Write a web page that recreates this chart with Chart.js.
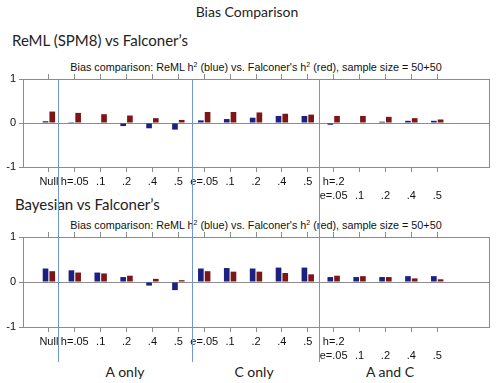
<!DOCTYPE html>
<html>
<head>
<meta charset="utf-8">
<script src="https://cdn.jsdelivr.net/npm/chart.js@4.4.1/dist/chart.umd.min.js"></script>
<style>
  html, body { margin:0; padding:0; background:#fff; }
  #wrap { position:relative; width:499px; height:383px; overflow:hidden; background:#fff; }
  .t { position:absolute; white-space:nowrap; color:#222; }
  .big { font-family:Lato, "Open Sans", sans-serif; font-size:14px; height:20px; line-height:20px; }
  .inner { font-family:"Liberation Sans", Arial, sans-serif; font-size:10.8px; height:16px; line-height:16px; transform:translateX(-50%); color:#111; }
  .inner sup { font-size:7px; line-height:0; vertical-align:4px; }
  .ctr { transform:translateX(-50%); }
  canvas { position:absolute; left:0; }
</style>
</head>
<body>
<div id="wrap">
  <div class="t big ctr" style="left:247px; top:2px;">Bias Comparison</div>
  <div class="t big" style="left:12px; top:30px; font-size:15px;">ReML (SPM8) vs Falconer’s</div>
  <div class="t inner" style="left:256px; top:59px;">Bias comparison: ReML h<sup>2</sup> (blue) vs. Falconer's h<sup>2</sup> (red), sample size = 50+50</div>
  <div class="t big" style="left:15px; top:194px; font-size:15px;">Bayesian vs Falconer’s</div>
  <div class="t inner" style="left:256px; top:217px;">Bias comparison: ReML h<sup>2</sup> (blue) vs. Falconer's h<sup>2</sup> (red), sample size = 50+50</div>
  <div class="t big ctr" style="left:125px; top:362px;">A only</div>
  <div class="t big ctr" style="left:254px; top:362px;">C only</div>
  <div class="t big ctr" style="left:390px; top:362px;">A and C</div>
  <canvas id="c1" width="499" height="200" style="top:0px;"></canvas>
  <canvas id="c2" width="499" height="183" style="top:200px;"></canvas>
</div>
<script>
// ---- data ----
const categories = ['Null','h=.05','.1','.2','.4','.5','e=.05','.1','.2','.4','.5',['h=.2','e=.05'],['','.1'],['','.2'],['','.4'],['','.5']];
const yTicks = [-1, 0, 1];
const remlBias      = [0.04, 0.02, -0.01, -0.07, -0.12, -0.15, 0.06, 0.09, 0.12, 0.16, 0.16, -0.04, -0.01, 0.03, 0.05, 0.05];
const falconerTop   = [0.26, 0.23, 0.20, 0.17, 0.11, 0.07, 0.25, 0.25, 0.24, 0.21, 0.19, 0.16, 0.16, 0.14, 0.11, 0.08];
const bayesBias     = [0.30, 0.26, 0.21, 0.11, -0.08, -0.18, 0.30, 0.31, 0.30, 0.32, 0.32, 0.11, 0.11, 0.11, 0.13, 0.13];
const falconerBot   = [0.24, 0.21, 0.19, 0.14, 0.07, 0.04, 0.24, 0.23, 0.23, 0.20, 0.17, 0.14, 0.13, 0.11, 0.08, 0.06];
const dividerPositions = [1.35, 6.53, 11.43]; // in category-index units (padded axis)

// padded axis: one empty slot before, two after
const padLabels = [''].concat(categories, ['', '']);
const pad = arr => [null].concat(arr, [null, null]);

const GRAY = '#8c8c8c';
const BLUE = '#1c2180';
const RED  = '#7d1616';
const LINE = '#7097d0';
const tickFont = { family: '"Liberation Sans", Arial, sans-serif', size: 11 };

const dividerPlugin = {
  id: 'dividers',
  afterDraw(chart, args, opts) {
    const ctx = chart.ctx, xs = chart.scales.x;
    const y0 = opts.fromChartTop ? chart.chartArea.top : 0;
    const y1 = opts.to;
    ctx.save();
    ctx.strokeStyle = LINE;
    ctx.lineWidth = 1;
    dividerPositions.forEach(v => {
      const px = Math.round(xs.getPixelForValue(v)) + 0.5;
      ctx.beginPath(); ctx.moveTo(px, y0); ctx.lineTo(px, y1); ctx.stroke();
    });
    ctx.restore();
  }
};

function makeChart(id, blueData, redData, padTop, xHeight, dividerOpts) {
  const isData = c => c.index >= 1 && c.index <= categories.length;
  return new Chart(document.getElementById(id), {
    type: 'bar',
    data: {
      labels: padLabels,
      datasets: [
        { data: pad(blueData), backgroundColor: BLUE, borderWidth: 0, categoryPercentage: 0.52, barPercentage: 0.84 },
        { data: pad(redData),  backgroundColor: RED,  borderWidth: 0, categoryPercentage: 0.52, barPercentage: 0.84 }
      ]
    },
    options: {
      responsive: false,
      animation: false,
      layout: { padding: { top: padTop, right: 0, bottom: 0, left: 0 } },
      plugins: { legend: { display: false }, title: { display: false }, tooltip: { enabled: false }, dividers: dividerOpts },
      scales: {
        x: {
          type: 'category', position: 'bottom', offset: false,
          grid: { offset: false, drawOnChartArea: false, drawTicks: true, tickLength: 5,
                  color: c => isData(c) ? GRAY : 'rgba(0,0,0,0)', tickColor: c => isData(c) ? GRAY : 'rgba(0,0,0,0)' },
          border: { color: GRAY, width: 1 },
          ticks: { autoSkip: false, maxRotation: 0, minRotation: 0, padding: 2, color: '#111', font: { ...tickFont, lineHeight: 1.36 } },
          afterFit: s => { s.height = xHeight; }
        },
        xTop: {
          type: 'category', position: 'top', offset: false,
          grid: { offset: false, drawOnChartArea: false, drawTicks: true, tickLength: 5,
                  color: c => isData(c) ? GRAY : 'rgba(0,0,0,0)', tickColor: c => isData(c) ? GRAY : 'rgba(0,0,0,0)' },
          border: { color: GRAY, width: 1 },
          ticks: { display: false },
          afterFit: s => { s.height = 5; }
        },
        y: {
          position: 'left', min: -1, max: 1,
          afterBuildTicks: s => { s.ticks = yTicks.map(v => ({ value: v })); },
          grid: { drawTicks: true, tickLength: 4,
                  color: c => (c.tick && c.tick.value === 0) ? GRAY : 'rgba(0,0,0,0)', tickColor: GRAY },
          border: { color: GRAY, width: 1 },
          ticks: { padding: 3, color: '#111', font: { ...tickFont, size: 11 }, callback: v => String(v) },
          afterFit: s => { s.width = 23; }
        },
        yRight: {
          position: 'right', min: -1, max: 1,
          grid: { display: false },
          border: { display: true, color: GRAY, width: 1 },
          ticks: { display: false },
          afterFit: s => { s.width = 10; }
        }
      }
    },
    plugins: [dividerPlugin]
  });
}

// top chart: plot 79..167 in a 200px canvas
makeChart('c1', remlBias, falconerTop, 74, 33, { fromChartTop: true, to: 200 });
// bottom chart: plot 37..127 in a 183px canvas (page offset 200)
makeChart('c2', bayesBias, falconerBot, 32, 56, { fromChartTop: false, to: 162 });
</script>
</body>
</html>
